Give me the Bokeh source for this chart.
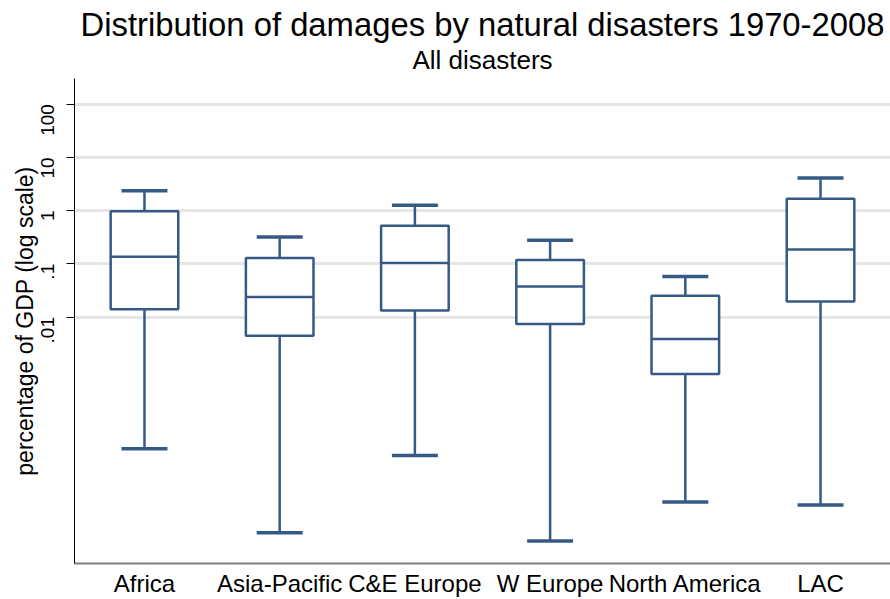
import math
from bokeh.plotting import figure
from bokeh.models import (FactorRange, Range1d, FixedTicker, CustomJSTickFormatter,
                          ColumnDataSource, Title)
from bokeh.transform import dodge
from bokeh.embed import file_html
from bokeh.resources import INLINE

# Damages as percentage of GDP, per region (box plot statistics)
regions = ["Africa", "Asia-Pacific", "C&E Europe", "W Europe", "North America", "LAC"]
upper_adj = [2.35, 0.32, 1.26, 0.277, 0.058, 4.1]
q3 = [0.97, 0.129, 0.52, 0.118, 0.025, 1.66]
median = [0.136, 0.0239, 0.104, 0.0373, 0.00388, 0.185]
q1 = [0.0140, 0.00447, 0.0132, 0.0074, 0.00085, 0.0195]
lower_adj = [3.36e-5, 8.9e-7, 2.5e-5, 6.2e-7, 3.35e-6, 2.94e-6]

y_ticks = [0.01, 0.1, 1, 10, 100]

FONT = "Liberation Sans"
BOX = "#365a86"

src = ColumnDataSource(dict(cat=regions, hi=upper_adj, q3=q3, med=median, q1=q1, lo=lower_adj))

p = figure(width=890, height=599, output_backend="svg", toolbar_location=None,
           x_range=FactorRange(*regions, range_padding=0.0175, range_padding_units="absolute"),
           y_range=Range1d(2.35e-7, 302), y_axis_type="log",
           min_border_left=74, min_border_right=0, min_border_top=0, min_border_bottom=0)
p.title = None
p.outline_line_color = None
p.background_fill_color = "white"
p.border_fill_color = "white"

p.add_layout(Title(text="All disasters", align="center", text_font=FONT,
                   text_font_size="26px", text_font_style="normal", text_color="black",
                   standoff=7), "above")
p.add_layout(Title(text="Distribution of damages by natural disasters 1970-2008",
                   align="center", text_font=FONT, text_font_size="32.8px",
                   text_font_style="normal", text_color="black", standoff=-7), "above")
# small blank band above the heading
p.add_layout(Title(text=" ", text_font_size="2px", standoff=3), "above")

# grid
p.xgrid.grid_line_color = None
p.ygrid.ticker = FixedTicker(ticks=y_ticks)
p.ygrid.grid_line_color = "#e6e6e6"
p.ygrid.grid_line_width = 3

# y axis
ya = p.yaxis[0]
ya.ticker = FixedTicker(ticks=y_ticks)
ya.formatter = CustomJSTickFormatter(code="""
    if (tick >= 1) { return tick.toFixed(0); }
    return tick.toString().replace(/^0/, '');
""")
ya.minor_tick_line_color = None
ya.major_tick_out = 8
ya.major_tick_in = 0
ya.major_tick_line_color = "black"
ya.axis_line_color = "black"
ya.axis_line_width = 1
ya.major_label_orientation = math.pi / 2
ya.major_label_text_font = FONT
ya.major_label_text_font_size = "19px"
ya.major_label_text_color = "black"
ya.major_label_standoff = 19
ya.axis_label = "percentage of GDP (log scale)"
ya.axis_label_text_font = FONT
ya.axis_label_text_font_size = "23px"
ya.axis_label_text_font_style = "normal"
ya.axis_label_text_color = "black"
ya.axis_label_standoff = -6

# x axis
xa = p.xaxis[0]
xa.major_tick_line_color = None
xa.minor_tick_line_color = None
xa.axis_line_color = "#7f7f7f"
xa.axis_line_width = 2
xa.major_label_text_font = FONT
xa.major_label_text_font_size = "24px"
xa.major_label_text_color = "black"
xa.major_label_standoff = 0

# whiskers
p.segment(x0="cat", y0="q3", x1="cat", y1="hi", source=src, line_color=BOX, line_width=2.5)
p.segment(x0="cat", y0="q1", x1="cat", y1="lo", source=src, line_color=BOX, line_width=2.5)
# caps
for col in ("hi", "lo"):
    p.segment(x0=dodge("cat", -0.17, range=p.x_range), y0=col,
              x1=dodge("cat", 0.17, range=p.x_range), y1=col,
              source=src, line_color=BOX, line_width=3.5)
# boxes
p.vbar(x="cat", top="q3", bottom="q1", width=0.5, source=src,
       fill_color="white", line_color=BOX, line_width=2.5)
# medians
p.segment(x0=dodge("cat", -0.25, range=p.x_range), y0="med",
          x1=dodge("cat", 0.25, range=p.x_range), y1="med",
          source=src, line_color=BOX, line_width=2.5)

open("out.html", "w").write(file_html(p, INLINE))
